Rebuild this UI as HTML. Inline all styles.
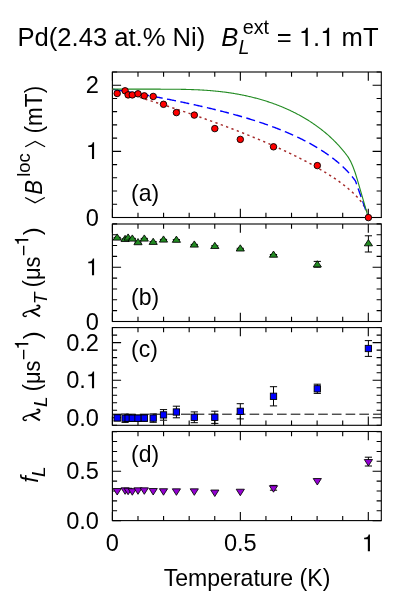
<!DOCTYPE html>
<html><head><meta charset="utf-8"><title>Pd(2.43 at.% Ni)</title>
<style>
html,body{margin:0;padding:0;background:#fff;}
svg{display:block;font-family:"Liberation Sans",sans-serif;fill:#000;will-change:transform;}
</style></head><body>
<svg width="415" height="594" viewBox="0 0 415 594">
<rect width="415" height="594" fill="#fff"/>
<rect x="112.4" y="72.0" width="268.90" height="145.50" fill="none" stroke="#000" stroke-width="1.1"/>
<path d="M112.40 217.5v-8.7M112.40 72.0v8.7M137.99 217.5v-4.7M137.99 72.0v4.7M163.58 217.5v-4.7M163.58 72.0v4.7M189.17 217.5v-4.7M189.17 72.0v4.7M214.76 217.5v-4.7M214.76 72.0v4.7M240.35 217.5v-8.7M240.35 72.0v8.7M265.94 217.5v-4.7M265.94 72.0v4.7M291.53 217.5v-4.7M291.53 72.0v4.7M317.12 217.5v-4.7M317.12 72.0v4.7M342.71 217.5v-4.7M342.71 72.0v4.7M368.30 217.5v-8.7M368.30 72.0v8.7" stroke="#000" stroke-width="1.1" fill="none"/>
<rect x="112.4" y="224.0" width="268.90" height="97.50" fill="none" stroke="#000" stroke-width="1.1"/>
<path d="M112.40 321.5v-8.7M112.40 224.0v8.7M137.99 321.5v-4.7M137.99 224.0v4.7M163.58 321.5v-4.7M163.58 224.0v4.7M189.17 321.5v-4.7M189.17 224.0v4.7M214.76 321.5v-4.7M214.76 224.0v4.7M240.35 321.5v-8.7M240.35 224.0v8.7M265.94 321.5v-4.7M265.94 224.0v4.7M291.53 321.5v-4.7M291.53 224.0v4.7M317.12 321.5v-4.7M317.12 224.0v4.7M342.71 321.5v-4.7M342.71 224.0v4.7M368.30 321.5v-8.7M368.30 224.0v8.7" stroke="#000" stroke-width="1.1" fill="none"/>
<rect x="112.4" y="327.6" width="268.90" height="97.70" fill="none" stroke="#000" stroke-width="1.1"/>
<path d="M112.40 425.3v-8.7M112.40 327.6v8.7M137.99 425.3v-4.7M137.99 327.6v4.7M163.58 425.3v-4.7M163.58 327.6v4.7M189.17 425.3v-4.7M189.17 327.6v4.7M214.76 425.3v-4.7M214.76 327.6v4.7M240.35 425.3v-8.7M240.35 327.6v8.7M265.94 425.3v-4.7M265.94 327.6v4.7M291.53 425.3v-4.7M291.53 327.6v4.7M317.12 425.3v-4.7M317.12 327.6v4.7M342.71 425.3v-4.7M342.71 327.6v4.7M368.30 425.3v-8.7M368.30 327.6v8.7" stroke="#000" stroke-width="1.1" fill="none"/>
<rect x="112.4" y="431.5" width="268.90" height="89.10" fill="none" stroke="#000" stroke-width="1.1"/>
<path d="M112.40 520.6v-8.7M112.40 431.5v8.7M137.99 520.6v-4.7M137.99 431.5v4.7M163.58 520.6v-4.7M163.58 431.5v4.7M189.17 520.6v-4.7M189.17 431.5v4.7M214.76 520.6v-4.7M214.76 431.5v4.7M240.35 520.6v-8.7M240.35 431.5v8.7M265.94 520.6v-4.7M265.94 431.5v4.7M291.53 520.6v-4.7M291.53 431.5v4.7M317.12 520.6v-4.7M317.12 431.5v4.7M342.71 520.6v-4.7M342.71 431.5v4.7M368.30 520.6v-8.7M368.30 431.5v8.7" stroke="#000" stroke-width="1.1" fill="none"/>
<path d="M112.4 217.50h8.7M381.3 217.50h-8.7M112.4 204.27h4.7M381.3 204.27h-4.7M112.4 191.04h4.7M381.3 191.04h-4.7M112.4 177.81h4.7M381.3 177.81h-4.7M112.4 164.58h4.7M381.3 164.58h-4.7M112.4 151.35h8.7M381.3 151.35h-8.7M112.4 138.12h4.7M381.3 138.12h-4.7M112.4 124.89h4.7M381.3 124.89h-4.7M112.4 111.66h4.7M381.3 111.66h-4.7M112.4 98.43h4.7M381.3 98.43h-4.7M112.4 85.20h8.7M381.3 85.20h-8.7M112.4 71.97h4.7M381.3 71.97h-4.7" stroke="#000" stroke-width="1.1" fill="none"/>
<path d="M112.4 321.50h8.7M381.3 321.50h-8.7M112.4 310.65h4.7M381.3 310.65h-4.7M112.4 299.80h4.7M381.3 299.80h-4.7M112.4 288.95h4.7M381.3 288.95h-4.7M112.4 278.10h4.7M381.3 278.10h-4.7M112.4 267.25h8.7M381.3 267.25h-8.7M112.4 256.40h4.7M381.3 256.40h-4.7M112.4 245.55h4.7M381.3 245.55h-4.7M112.4 234.70h4.7M381.3 234.70h-4.7M112.4 223.85h4.7M381.3 223.85h-4.7" stroke="#000" stroke-width="1.1" fill="none"/>
<path d="M112.4 425.32h4.7M381.3 425.32h-4.7M112.4 417.80h8.7M381.3 417.80h-8.7M112.4 410.28h4.7M381.3 410.28h-4.7M112.4 402.76h4.7M381.3 402.76h-4.7M112.4 395.24h4.7M381.3 395.24h-4.7M112.4 387.72h4.7M381.3 387.72h-4.7M112.4 380.20h8.7M381.3 380.20h-8.7M112.4 372.68h4.7M381.3 372.68h-4.7M112.4 365.16h4.7M381.3 365.16h-4.7M112.4 357.64h4.7M381.3 357.64h-4.7M112.4 350.12h4.7M381.3 350.12h-4.7M112.4 342.60h8.7M381.3 342.60h-8.7M112.4 335.08h4.7M381.3 335.08h-4.7M112.4 327.56h4.7M381.3 327.56h-4.7" stroke="#000" stroke-width="1.1" fill="none"/>
<path d="M112.4 520.60h8.7M381.3 520.60h-8.7M112.4 510.72h4.7M381.3 510.72h-4.7M112.4 500.84h4.7M381.3 500.84h-4.7M112.4 490.96h4.7M381.3 490.96h-4.7M112.4 481.08h4.7M381.3 481.08h-4.7M112.4 471.20h8.7M381.3 471.20h-8.7M112.4 461.32h4.7M381.3 461.32h-4.7M112.4 451.44h4.7M381.3 451.44h-4.7M112.4 441.56h4.7M381.3 441.56h-4.7M112.4 431.68h4.7M381.3 431.68h-4.7" stroke="#000" stroke-width="1.1" fill="none"/>
<text x="85.87" y="225.65" font-size="23.6">0</text>
<path d="M94.09 158.90L94.09 142.17L92.79 142.17C92.39 144.39 90.95 145.35 88.26 145.50L88.26 147.03L91.96 147.03L91.96 158.90Z" fill="#000"/>
<text x="85.87" y="93.15" font-size="23.6">2</text>
<text x="85.87" y="330.45" font-size="23.6">0</text>
<path d="M94.09 275.20L94.09 258.47L92.79 258.47C92.39 260.69 90.95 261.65 88.26 261.80L88.26 263.33L91.96 263.33L91.96 275.20Z" fill="#000"/>
<text x="66.19" y="425.75" font-size="23.6">0.0</text>
<text x="66.19" y="388.15" font-size="23.6">0.</text>
<path d="M94.09 388.15L94.09 371.42L92.79 371.42C92.39 373.64 90.95 374.60 88.26 374.75L88.26 376.28L91.96 376.28L91.96 388.15Z" fill="#000"/>
<text x="66.19" y="350.85" font-size="23.6">0.2</text>
<text x="66.19" y="528.85" font-size="23.6">0.0</text>
<text x="66.19" y="479.45" font-size="23.6">0.5</text>
<text x="105.84" y="551.20" font-size="23.6">0</text>
<text x="223.95" y="551.20" font-size="23.6">0.5</text>
<path d="M369.95 551.20L369.95 534.47L368.65 534.47C368.25 536.69 366.81 537.65 364.12 537.80L364.12 539.33L367.83 539.33L367.83 551.20Z" fill="#000"/>
<text transform="translate(163.68 585.70) scale(0.978 1)" font-size="23.6">Temperature (K)</text>
<text transform="translate(131.06 200.60) scale(0.975 1)" font-size="23.6">(a)</text>
<text transform="translate(131.06 304.60) scale(0.975 1)" font-size="23.6">(b)</text>
<text transform="translate(131.06 357.40) scale(0.975 1)" font-size="23.6">(c)</text>
<text transform="translate(131.06 461.60) scale(0.975 1)" font-size="23.6">(d)</text>
<text x="17.49" y="46.00" font-size="25.6">Pd(2.43 at.% Ni)</text>
<text x="221.33" y="45.90" font-size="25.6" font-style="italic">B</text>
<text x="238.51" y="53.90" font-size="19.6" font-style="italic">L</text>
<text x="242.66" y="33.50" font-size="19.8">ext</text>
<text x="276.82" y="46.00" font-size="25.6">=</text>
<path d="M307.79 46.00L307.79 27.85L306.38 27.85C305.95 30.26 304.39 31.31 301.47 31.46L301.47 33.12L305.49 33.12L305.49 46.00Z" fill="#000"/>
<text x="313.12" y="46.00" font-size="25.6">.</text>
<path d="M329.14 46.00L329.14 27.85L327.73 27.85C327.30 30.26 325.73 31.31 322.82 31.46L322.82 33.12L326.83 33.12L326.83 46.00Z" fill="#000"/>
<text x="341.58" y="46.00" font-size="25.6">mT</text>
<path d="M112.40 89.17L113.25 89.42L114.11 89.67L114.96 89.92L115.81 90.17L116.67 90.43L117.52 90.68L118.37 90.93L119.22 91.19L120.08 91.44L120.93 91.69L121.78 91.95L122.64 92.20L123.49 92.46L124.34 92.71L125.20 92.97L126.05 93.23L126.90 93.48L127.75 93.74L128.61 94.00L129.46 94.25L130.31 94.51L131.17 94.77L132.02 95.03L132.87 95.29L133.72 95.55L134.58 95.81L135.43 96.07L136.28 96.33L137.14 96.59L137.99 96.85L138.84 97.11L139.70 97.38L140.55 97.64L141.40 97.90L142.25 98.17L143.11 98.43L143.96 98.70L144.81 98.96L145.67 99.23L146.52 99.49L147.37 99.76L148.23 100.02L149.08 100.29L149.93 100.56L150.78 100.83L151.64 101.10L152.49 101.36L153.34 101.63L154.20 101.90L155.05 102.17L155.90 102.44L156.76 102.71L157.61 102.99L158.46 103.26L159.31 103.53L160.17 103.80L161.02 104.08L161.87 104.35L162.73 104.62L163.58 104.90L164.43 105.17L165.29 105.45L166.14 105.73L166.99 106.00L167.84 106.28L168.70 106.56L169.55 106.84L170.40 107.11L171.26 107.39L172.11 107.67L172.96 107.95L173.82 108.23L174.67 108.51L175.52 108.80L176.38 109.08L177.23 109.36L178.08 109.64L178.93 109.93L179.79 110.21L180.64 110.50L181.49 110.78L182.35 111.07L183.20 111.35L184.05 111.64L184.91 111.93L185.76 112.22L186.61 112.50L187.46 112.79L188.32 113.08L189.17 113.37L190.02 113.66L190.88 113.96L191.73 114.25L192.58 114.54L193.44 114.83L194.29 115.13L195.14 115.42L195.99 115.72L196.85 116.01L197.70 116.31L198.55 116.61L199.41 116.90L200.26 117.20L201.11 117.50L201.97 117.80L202.82 118.10L203.67 118.40L204.52 118.70L205.38 119.00L206.23 119.31L207.08 119.61L207.94 119.91L208.79 120.22L209.64 120.52L210.50 120.83L211.35 121.13L212.20 121.44L213.05 121.75L213.91 122.06L214.76 122.37L215.61 122.68L216.47 122.99L217.32 123.30L218.17 123.61L219.03 123.93L219.88 124.24L220.73 124.55L221.58 124.87L222.44 125.18L223.29 125.50L224.14 125.82L225.00 126.14L225.85 126.46L226.70 126.78L227.56 127.10L228.41 127.42L229.26 127.74L230.11 128.06L230.97 128.39L231.82 128.71L232.67 129.04L233.53 129.36L234.38 129.69L235.23 130.02L236.09 130.35L236.94 130.68L237.79 131.01L238.64 131.34L239.50 131.67L240.35 132.01L241.20 132.34L242.06 132.68L242.91 133.01L243.76 133.35L244.62 133.69L245.47 134.03L246.32 134.37L247.17 134.71L248.03 135.05L248.88 135.40L249.73 135.74L250.59 136.08L251.44 136.43L252.29 136.78L253.15 137.13L254.00 137.48L254.85 137.83L255.70 138.18L256.56 138.53L257.41 138.88L258.26 139.24L259.12 139.60L259.97 139.95L260.82 140.31L261.68 140.67L262.53 141.03L263.38 141.39L264.23 141.76L265.09 142.12L265.94 142.49L266.79 142.85L267.65 143.22L268.50 143.59L269.35 143.96L270.21 144.33L271.06 144.71L271.91 145.08L272.76 145.46L273.62 145.84L274.47 146.22L275.32 146.60L276.18 146.98L277.03 147.36L277.88 147.75L278.74 148.13L279.59 148.52L280.44 148.91L281.29 149.30L282.15 149.69L283.00 150.09L283.85 150.48L284.71 150.88L285.56 151.28L286.41 151.68L287.26 152.08L288.12 152.49L288.97 152.89L289.82 153.30L290.68 153.71L291.53 154.12L292.38 154.54L293.24 154.95L294.09 155.37L294.94 155.79L295.80 156.21L296.65 156.64L297.50 157.06L298.35 157.49L299.21 157.92L300.06 158.35L300.91 158.79L301.77 159.22L302.62 159.66L303.47 160.10L304.33 160.55L305.18 160.99L306.03 161.44L306.88 161.89L307.74 162.35L308.59 162.80L309.44 163.26L310.30 163.72L311.15 164.19L312.00 164.66L312.86 165.13L313.71 165.60L314.56 166.08L315.41 166.56L316.27 167.04L317.12 167.53L317.97 168.02L318.83 168.51L319.68 169.01L320.53 169.51L321.38 170.01L322.24 170.52L323.09 171.03L323.94 171.55L324.80 172.07L325.65 172.59L326.50 173.12L327.36 173.65L328.21 174.19L329.06 174.73L329.91 175.28L330.77 175.83L331.62 176.39L332.47 176.95L333.33 177.52L334.18 178.10L335.03 178.68L335.89 179.26L336.74 179.86L337.59 180.45L338.44 181.06L339.30 181.68L340.15 182.30L341.00 182.93L341.86 183.56L342.71 184.21L343.56 184.86L344.42 185.53L345.27 186.20L346.12 186.89L346.98 187.58L347.83 188.29L348.68 189.01L349.53 189.74L350.39 190.49L351.24 191.25L352.09 192.03L352.95 192.82L353.80 193.63L354.65 194.47L355.50 195.32L356.36 196.20L357.21 197.11L358.06 198.04L358.92 199.01L359.77 200.01L360.62 201.06L361.48 202.16L362.33 203.31L363.18 204.54L364.03 205.85L364.89 207.28L365.74 208.86L366.59 210.69L367.45 212.96L368.30 217.50" fill="none" stroke="#a52a2a" stroke-width="1.45" stroke-dasharray="2.3 3.4"/>
<path d="M112.40 89.17L113.25 89.31L114.11 89.45L114.96 89.60L115.81 89.74L116.67 89.89L117.52 90.03L118.37 90.18L119.22 90.32L120.08 90.47L120.93 90.61L121.78 90.76L122.64 90.90L123.49 91.05L124.34 91.20L125.20 91.34L126.05 91.49L126.90 91.64L127.75 91.79L128.61 91.94L129.46 92.09L130.31 92.24L131.17 92.39L132.02 92.54L132.87 92.69L133.72 92.84L134.58 92.99L135.43 93.14L136.28 93.29L137.14 93.45L137.99 93.60L138.84 93.75L139.70 93.91L140.55 94.06L141.40 94.22L142.25 94.37L143.11 94.53L143.96 94.68L144.81 94.84L145.67 94.99L146.52 95.15L147.37 95.31L148.23 95.47L149.08 95.63L149.93 95.78L150.78 95.94L151.64 96.10L152.49 96.26L153.34 96.42L154.20 96.58L155.05 96.75L155.90 96.91L156.76 97.07L157.61 97.23L158.46 97.40L159.31 97.56L160.17 97.72L161.02 97.89L161.87 98.05L162.73 98.22L163.58 98.39L164.43 98.55L165.29 98.72L166.14 98.89L166.99 99.06L167.84 99.23L168.70 99.39L169.55 99.56L170.40 99.74L171.26 99.91L172.11 100.08L172.96 100.25L173.82 100.42L174.67 100.60L175.52 100.77L176.38 100.94L177.23 101.12L178.08 101.29L178.93 101.47L179.79 101.65L180.64 101.82L181.49 102.00L182.35 102.18L183.20 102.36L184.05 102.54L184.91 102.72L185.76 102.90L186.61 103.08L187.46 103.27L188.32 103.45L189.17 103.63L190.02 103.82L190.88 104.00L191.73 104.19L192.58 104.37L193.44 104.56L194.29 104.75L195.14 104.94L195.99 105.13L196.85 105.32L197.70 105.51L198.55 105.70L199.41 105.89L200.26 106.09L201.11 106.28L201.97 106.47L202.82 106.67L203.67 106.87L204.52 107.06L205.38 107.26L206.23 107.46L207.08 107.66L207.94 107.86L208.79 108.06L209.64 108.27L210.50 108.47L211.35 108.67L212.20 108.88L213.05 109.08L213.91 109.29L214.76 109.50L215.61 109.71L216.47 109.92L217.32 110.13L218.17 110.34L219.03 110.56L219.88 110.77L220.73 110.98L221.58 111.20L222.44 111.42L223.29 111.64L224.14 111.86L225.00 112.08L225.85 112.30L226.70 112.52L227.56 112.75L228.41 112.97L229.26 113.20L230.11 113.43L230.97 113.66L231.82 113.89L232.67 114.12L233.53 114.35L234.38 114.58L235.23 114.82L236.09 115.06L236.94 115.29L237.79 115.53L238.64 115.78L239.50 116.02L240.35 116.26L241.20 116.51L242.06 116.75L242.91 117.00L243.76 117.25L244.62 117.50L245.47 117.76L246.32 118.01L247.17 118.27L248.03 118.52L248.88 118.78L249.73 119.04L250.59 119.31L251.44 119.57L252.29 119.84L253.15 120.10L254.00 120.37L254.85 120.64L255.70 120.92L256.56 121.19L257.41 121.47L258.26 121.75L259.12 122.03L259.97 122.31L260.82 122.60L261.68 122.88L262.53 123.17L263.38 123.46L264.23 123.75L265.09 124.05L265.94 124.35L266.79 124.65L267.65 124.95L268.50 125.25L269.35 125.56L270.21 125.87L271.06 126.18L271.91 126.49L272.76 126.80L273.62 127.12L274.47 127.44L275.32 127.76L276.18 128.09L277.03 128.42L277.88 128.75L278.74 129.08L279.59 129.42L280.44 129.75L281.29 130.10L282.15 130.44L283.00 130.79L283.85 131.14L284.71 131.49L285.56 131.84L286.41 132.20L287.26 132.56L288.12 132.93L288.97 133.30L289.82 133.67L290.68 134.04L291.53 134.42L292.38 134.80L293.24 135.19L294.09 135.57L294.94 135.96L295.80 136.36L296.65 136.76L297.50 137.16L298.35 137.57L299.21 137.98L300.06 138.39L300.91 138.81L301.77 139.23L302.62 139.66L303.47 140.09L304.33 140.52L305.18 140.96L306.03 141.40L306.88 141.85L307.74 142.31L308.59 142.76L309.44 143.22L310.30 143.69L311.15 144.16L312.00 144.64L312.86 145.12L313.71 145.61L314.56 146.10L315.41 146.60L316.27 147.11L317.12 147.62L317.97 148.13L318.83 148.66L319.68 149.18L320.53 149.72L321.38 150.26L322.24 150.81L323.09 151.36L323.94 151.93L324.80 152.49L325.65 153.07L326.50 153.66L327.36 154.25L328.21 154.85L329.06 155.46L329.91 156.08L330.77 156.70L331.62 157.34L332.47 157.98L333.33 158.64L334.18 159.30L335.03 159.98L335.89 160.67L336.74 161.36L337.59 162.07L338.44 162.79L339.30 163.53L340.15 164.28L341.00 165.04L341.86 165.81L342.71 166.60L343.56 167.41L344.42 168.23L345.27 169.07L346.12 169.93L346.98 170.81L347.83 171.71L348.68 172.63L349.53 173.57L350.39 174.54L351.24 175.54L352.09 176.56L352.95 177.61L353.80 178.70L354.65 179.82L355.50 180.98L356.36 183.42L357.21 185.85L358.06 188.29L358.92 190.72L359.77 193.16L360.62 195.59L361.48 198.02L362.33 200.46L363.18 202.89L364.03 205.33L364.89 207.76L365.74 210.20L366.59 212.63L367.45 215.07L368.30 217.50" fill="none" stroke="#0000ff" stroke-width="1.4" stroke-dasharray="9.1 4.5" stroke-dashoffset="-1.1"/>
<path d="M112.40 89.17L113.25 89.17L114.11 89.17L114.96 89.17L115.81 89.17L116.67 89.17L117.52 89.17L118.37 89.17L119.22 89.17L120.08 89.17L120.93 89.17L121.78 89.17L122.64 89.17L123.49 89.17L124.34 89.17L125.20 89.17L126.05 89.17L126.90 89.17L127.75 89.17L128.61 89.17L129.46 89.17L130.31 89.17L131.17 89.17L132.02 89.17L132.87 89.17L133.72 89.17L134.58 89.17L135.43 89.17L136.28 89.17L137.14 89.17L137.99 89.17L138.84 89.17L139.70 89.17L140.55 89.17L141.40 89.17L142.25 89.17L143.11 89.17L143.96 89.17L144.81 89.17L145.67 89.17L146.52 89.17L147.37 89.17L148.23 89.17L149.08 89.17L149.93 89.17L150.78 89.17L151.64 89.17L152.49 89.17L153.34 89.17L154.20 89.17L155.05 89.17L155.90 89.17L156.76 89.17L157.61 89.17L158.46 89.17L159.31 89.17L160.17 89.17L161.02 89.18L161.87 89.18L162.73 89.18L163.58 89.18L164.43 89.18L165.29 89.19L166.14 89.19L166.99 89.19L167.84 89.19L168.70 89.20L169.55 89.20L170.40 89.21L171.26 89.21L172.11 89.22L172.96 89.22L173.82 89.23L174.67 89.24L175.52 89.25L176.38 89.26L177.23 89.27L178.08 89.28L178.93 89.29L179.79 89.30L180.64 89.31L181.49 89.33L182.35 89.34L183.20 89.36L184.05 89.37L184.91 89.39L185.76 89.41L186.61 89.43L187.46 89.45L188.32 89.48L189.17 89.50L190.02 89.53L190.88 89.55L191.73 89.58L192.58 89.61L193.44 89.64L194.29 89.68L195.14 89.71L195.99 89.75L196.85 89.78L197.70 89.82L198.55 89.86L199.41 89.91L200.26 89.95L201.11 90.00L201.97 90.05L202.82 90.10L203.67 90.15L204.52 90.20L205.38 90.26L206.23 90.32L207.08 90.38L207.94 90.44L208.79 90.50L209.64 90.57L210.50 90.64L211.35 90.71L212.20 90.78L213.05 90.86L213.91 90.93L214.76 91.01L215.61 91.10L216.47 91.18L217.32 91.27L218.17 91.36L219.03 91.45L219.88 91.54L220.73 91.64L221.58 91.74L222.44 91.84L223.29 91.95L224.14 92.05L225.00 92.16L225.85 92.28L226.70 92.39L227.56 92.51L228.41 92.63L229.26 92.75L230.11 92.88L230.97 93.01L231.82 93.14L232.67 93.28L233.53 93.41L234.38 93.55L235.23 93.70L236.09 93.84L236.94 93.99L237.79 94.15L238.64 94.30L239.50 94.46L240.35 94.62L241.20 94.79L242.06 94.96L242.91 95.13L243.76 95.30L244.62 95.48L245.47 95.66L246.32 95.85L247.17 96.03L248.03 96.22L248.88 96.42L249.73 96.62L250.59 96.82L251.44 97.02L252.29 97.23L253.15 97.44L254.00 97.66L254.85 97.88L255.70 98.10L256.56 98.33L257.41 98.56L258.26 98.79L259.12 99.03L259.97 99.27L260.82 99.51L261.68 99.76L262.53 100.01L263.38 100.27L264.23 100.53L265.09 100.79L265.94 101.06L266.79 101.33L267.65 101.61L268.50 101.89L269.35 102.17L270.21 102.46L271.06 102.76L271.91 103.05L272.76 103.35L273.62 103.66L274.47 103.97L275.32 104.28L276.18 104.60L277.03 104.93L277.88 105.25L278.74 105.59L279.59 105.92L280.44 106.27L281.29 106.61L282.15 106.96L283.00 107.32L283.85 107.68L284.71 108.05L285.56 108.42L286.41 108.79L287.26 109.18L288.12 109.56L288.97 109.95L289.82 110.35L290.68 110.75L291.53 111.16L292.38 111.57L293.24 111.99L294.09 112.42L294.94 112.85L295.80 113.28L296.65 113.72L297.50 114.17L298.35 114.63L299.21 115.09L300.06 115.55L300.91 116.02L301.77 116.50L302.62 116.99L303.47 117.48L304.33 117.98L305.18 118.48L306.03 118.99L306.88 119.51L307.74 120.04L308.59 120.57L309.44 121.11L310.30 121.66L311.15 122.22L312.00 122.78L312.86 123.35L313.71 123.93L314.56 124.52L315.41 125.11L316.27 125.72L317.12 126.33L317.97 126.95L318.83 127.59L319.68 128.23L320.53 128.88L321.38 129.53L322.24 130.20L323.09 130.88L323.94 131.57L324.80 132.27L325.65 132.99L326.50 133.71L327.36 134.44L328.21 135.19L329.06 135.95L329.91 136.72L330.77 137.50L331.62 138.29L332.47 139.10L333.33 139.93L334.18 140.77L335.03 141.62L335.89 142.49L336.74 143.37L337.59 144.28L338.44 145.19L339.30 146.13L340.15 147.09L341.00 148.06L341.86 149.06L342.71 150.07L343.56 151.11L344.42 152.17L345.27 153.26L346.12 154.37L346.98 155.50L347.83 156.67L348.34 157.38Q352.95 164.37 357.55 180.31L368.30 217.50" fill="none" stroke="#228b22" stroke-width="1.1" stroke-linejoin="round"/>
<circle cx="117.2" cy="93.45" r="3.25" fill="#f00" stroke="#000" stroke-width="0.9"/>
<circle cx="125.1" cy="90.8" r="3.25" fill="#f00" stroke="#000" stroke-width="0.9"/>
<circle cx="128.1" cy="94.9" r="3.25" fill="#f00" stroke="#000" stroke-width="0.9"/>
<circle cx="132.3" cy="94.9" r="3.25" fill="#f00" stroke="#000" stroke-width="0.9"/>
<circle cx="138.0" cy="93.8" r="3.25" fill="#f00" stroke="#000" stroke-width="0.9"/>
<circle cx="144.3" cy="95.85" r="3.25" fill="#f00" stroke="#000" stroke-width="0.9"/>
<circle cx="153.2" cy="96.45" r="3.25" fill="#f00" stroke="#000" stroke-width="0.9"/>
<circle cx="163.5" cy="104.3" r="3.25" fill="#f00" stroke="#000" stroke-width="0.9"/>
<circle cx="176.4" cy="112.6" r="3.25" fill="#f00" stroke="#000" stroke-width="0.9"/>
<circle cx="194.3" cy="115.1" r="3.25" fill="#f00" stroke="#000" stroke-width="0.9"/>
<circle cx="214.8" cy="128.6" r="3.25" fill="#f00" stroke="#000" stroke-width="0.9"/>
<circle cx="240.3" cy="139.4" r="3.25" fill="#f00" stroke="#000" stroke-width="0.9"/>
<circle cx="273.5" cy="146.8" r="3.25" fill="#f00" stroke="#000" stroke-width="0.9"/>
<circle cx="317.3" cy="165.6" r="3.25" fill="#f00" stroke="#000" stroke-width="0.9"/>
<circle cx="368.4" cy="217.6" r="3.25" fill="#f00" stroke="#000" stroke-width="0.9"/>
<path d="M117.20 237.40V239.00M113.60 237.40h7.2M113.60 239.00h7.2" stroke="#000" stroke-width="1.0" fill="none"/>
<path d="M117.20 233.92L121.30 240.12H113.10Z" fill="#228b22" stroke="#000" stroke-width="0.85"/>
<path d="M125.10 238.80V240.40M121.50 238.80h7.2M121.50 240.40h7.2" stroke="#000" stroke-width="1.0" fill="none"/>
<path d="M125.10 235.32L129.20 241.52H121.00Z" fill="#228b22" stroke="#000" stroke-width="0.85"/>
<path d="M128.10 237.40V239.00M124.50 237.40h7.2M124.50 239.00h7.2" stroke="#000" stroke-width="1.0" fill="none"/>
<path d="M128.10 233.92L132.20 240.12H124.00Z" fill="#228b22" stroke="#000" stroke-width="0.85"/>
<path d="M132.30 238.40V240.00M128.70 238.40h7.2M128.70 240.00h7.2" stroke="#000" stroke-width="1.0" fill="none"/>
<path d="M132.30 234.92L136.40 241.12H128.20Z" fill="#228b22" stroke="#000" stroke-width="0.85"/>
<path d="M138.00 242.00V243.60M134.40 242.00h7.2M134.40 243.60h7.2" stroke="#000" stroke-width="1.0" fill="none"/>
<path d="M138.00 238.52L142.10 244.72H133.90Z" fill="#228b22" stroke="#000" stroke-width="0.85"/>
<path d="M144.30 238.40V240.00M140.70 238.40h7.2M140.70 240.00h7.2" stroke="#000" stroke-width="1.0" fill="none"/>
<path d="M144.30 234.92L148.40 241.12H140.20Z" fill="#228b22" stroke="#000" stroke-width="0.85"/>
<path d="M153.20 241.70V243.30M149.60 241.70h7.2M149.60 243.30h7.2" stroke="#000" stroke-width="1.0" fill="none"/>
<path d="M153.20 238.22L157.30 244.42H149.10Z" fill="#228b22" stroke="#000" stroke-width="0.85"/>
<path d="M163.50 239.40V241.00M159.90 239.40h7.2M159.90 241.00h7.2" stroke="#000" stroke-width="1.0" fill="none"/>
<path d="M163.50 235.92L167.60 242.12H159.40Z" fill="#228b22" stroke="#000" stroke-width="0.85"/>
<path d="M176.40 239.60V241.20M172.80 239.60h7.2M172.80 241.20h7.2" stroke="#000" stroke-width="1.0" fill="none"/>
<path d="M176.40 236.12L180.50 242.32H172.30Z" fill="#228b22" stroke="#000" stroke-width="0.85"/>
<path d="M194.30 244.40V246.00M190.70 244.40h7.2M190.70 246.00h7.2" stroke="#000" stroke-width="1.0" fill="none"/>
<path d="M194.30 240.92L198.40 247.12H190.20Z" fill="#228b22" stroke="#000" stroke-width="0.85"/>
<path d="M214.80 245.80V247.40M211.20 245.80h7.2M211.20 247.40h7.2" stroke="#000" stroke-width="1.0" fill="none"/>
<path d="M214.80 242.32L218.90 248.52H210.70Z" fill="#228b22" stroke="#000" stroke-width="0.85"/>
<path d="M240.30 248.30V249.90M236.70 248.30h7.2M236.70 249.90h7.2" stroke="#000" stroke-width="1.0" fill="none"/>
<path d="M240.30 244.82L244.40 251.02H236.20Z" fill="#228b22" stroke="#000" stroke-width="0.85"/>
<path d="M273.50 254.50V256.10M269.90 254.50h7.2M269.90 256.10h7.2" stroke="#000" stroke-width="1.0" fill="none"/>
<path d="M273.50 251.02L277.60 257.22H269.40Z" fill="#228b22" stroke="#000" stroke-width="0.85"/>
<path d="M317.30 261.40V267.20M313.70 261.40h7.2M313.70 267.20h7.2" stroke="#000" stroke-width="1.0" fill="none"/>
<path d="M317.30 260.72L321.40 266.92H313.20Z" fill="#228b22" stroke="#000" stroke-width="0.85"/>
<path d="M368.40 235.80V252.00M364.80 235.80h7.2M364.80 252.00h7.2" stroke="#000" stroke-width="1.0" fill="none"/>
<path d="M368.40 239.62L372.50 245.82H364.30Z" fill="#228b22" stroke="#000" stroke-width="0.85"/>
<path d="M112.4 414.2H381.3" stroke="#000" stroke-width="1.0" stroke-dasharray="9.6 4.12" fill="none"/>
<path d="M117.20 414.90V420.90M113.60 414.90h7.2M113.60 420.90h7.2" stroke="#000" stroke-width="1.0" fill="none"/>
<rect x="114.05" y="414.75" width="6.3" height="6.3" fill="#0000ff" stroke="#000" stroke-width="0.9"/>
<path d="M125.10 414.00V422.40M121.50 414.00h7.2M121.50 422.40h7.2" stroke="#000" stroke-width="1.0" fill="none"/>
<rect x="121.95" y="415.05" width="6.3" height="6.3" fill="#0000ff" stroke="#000" stroke-width="0.9"/>
<path d="M128.10 415.00V421.40M124.50 415.00h7.2M124.50 421.40h7.2" stroke="#000" stroke-width="1.0" fill="none"/>
<rect x="124.95" y="415.05" width="6.3" height="6.3" fill="#0000ff" stroke="#000" stroke-width="0.9"/>
<path d="M132.30 415.00V421.40M128.70 415.00h7.2M128.70 421.40h7.2" stroke="#000" stroke-width="1.0" fill="none"/>
<rect x="129.15" y="415.05" width="6.3" height="6.3" fill="#0000ff" stroke="#000" stroke-width="0.9"/>
<path d="M138.00 415.00V421.40M134.40 415.00h7.2M134.40 421.40h7.2" stroke="#000" stroke-width="1.0" fill="none"/>
<rect x="134.85" y="415.05" width="6.3" height="6.3" fill="#0000ff" stroke="#000" stroke-width="0.9"/>
<path d="M144.30 414.90V421.30M140.70 414.90h7.2M140.70 421.30h7.2" stroke="#000" stroke-width="1.0" fill="none"/>
<rect x="141.15" y="414.95" width="6.3" height="6.3" fill="#0000ff" stroke="#000" stroke-width="0.9"/>
<path d="M153.20 413.90V422.30M149.60 413.90h7.2M149.60 422.30h7.2" stroke="#000" stroke-width="1.0" fill="none"/>
<rect x="150.05" y="414.95" width="6.3" height="6.3" fill="#0000ff" stroke="#000" stroke-width="0.9"/>
<path d="M163.50 409.60V420.20M159.90 409.60h7.2M159.90 420.20h7.2" stroke="#000" stroke-width="1.0" fill="none"/>
<rect x="160.35" y="411.75" width="6.3" height="6.3" fill="#0000ff" stroke="#000" stroke-width="0.9"/>
<path d="M176.40 406.20V417.80M172.80 406.20h7.2M172.80 417.80h7.2" stroke="#000" stroke-width="1.0" fill="none"/>
<rect x="173.25" y="408.85" width="6.3" height="6.3" fill="#0000ff" stroke="#000" stroke-width="0.9"/>
<path d="M194.30 411.90V422.70M190.70 411.90h7.2M190.70 422.70h7.2" stroke="#000" stroke-width="1.0" fill="none"/>
<rect x="191.15" y="414.15" width="6.3" height="6.3" fill="#0000ff" stroke="#000" stroke-width="0.9"/>
<path d="M214.80 411.20V423.40M211.20 411.20h7.2M211.20 423.40h7.2" stroke="#000" stroke-width="1.0" fill="none"/>
<rect x="211.65" y="414.15" width="6.3" height="6.3" fill="#0000ff" stroke="#000" stroke-width="0.9"/>
<path d="M240.30 403.70V418.90M236.70 403.70h7.2M236.70 418.90h7.2" stroke="#000" stroke-width="1.0" fill="none"/>
<rect x="237.15" y="408.15" width="6.3" height="6.3" fill="#0000ff" stroke="#000" stroke-width="0.9"/>
<path d="M273.50 386.70V405.90M269.90 386.70h7.2M269.90 405.90h7.2" stroke="#000" stroke-width="1.0" fill="none"/>
<rect x="270.35" y="393.15" width="6.3" height="6.3" fill="#0000ff" stroke="#000" stroke-width="0.9"/>
<path d="M317.30 384.20V393.40M313.70 384.20h7.2M313.70 393.40h7.2" stroke="#000" stroke-width="1.0" fill="none"/>
<rect x="314.15" y="385.65" width="6.3" height="6.3" fill="#0000ff" stroke="#000" stroke-width="0.9"/>
<path d="M368.40 340.60V356.40M364.80 340.60h7.2M364.80 356.40h7.2" stroke="#000" stroke-width="1.0" fill="none"/>
<rect x="365.25" y="345.35" width="6.3" height="6.3" fill="#0000ff" stroke="#000" stroke-width="0.9"/>
<path d="M117.20 495.03L121.30 488.53H113.10Z" fill="#9400d3" stroke="#000" stroke-width="0.85"/>
<path d="M125.10 494.33L129.20 487.83H121.00Z" fill="#9400d3" stroke="#000" stroke-width="0.85"/>
<path d="M128.10 494.73L132.20 488.23H124.00Z" fill="#9400d3" stroke="#000" stroke-width="0.85"/>
<path d="M132.30 495.23L136.40 488.73H128.20Z" fill="#9400d3" stroke="#000" stroke-width="0.85"/>
<path d="M138.00 494.33L142.10 487.83H133.90Z" fill="#9400d3" stroke="#000" stroke-width="0.85"/>
<path d="M144.30 494.33L148.40 487.83H140.20Z" fill="#9400d3" stroke="#000" stroke-width="0.85"/>
<path d="M153.20 495.03L157.30 488.53H149.10Z" fill="#9400d3" stroke="#000" stroke-width="0.85"/>
<path d="M163.50 495.23L167.60 488.73H159.40Z" fill="#9400d3" stroke="#000" stroke-width="0.85"/>
<path d="M176.40 495.33L180.50 488.83H172.30Z" fill="#9400d3" stroke="#000" stroke-width="0.85"/>
<path d="M194.30 495.33L198.40 488.83H190.20Z" fill="#9400d3" stroke="#000" stroke-width="0.85"/>
<path d="M214.80 496.53L218.90 490.03H210.70Z" fill="#9400d3" stroke="#000" stroke-width="0.85"/>
<path d="M240.30 495.73L244.40 489.23H236.20Z" fill="#9400d3" stroke="#000" stroke-width="0.85"/>
<path d="M273.50 485.40V490.20M269.90 485.40h7.2M269.90 490.20h7.2" stroke="#000" stroke-width="1.0" fill="none"/>
<path d="M273.50 492.23L277.60 485.73H269.40Z" fill="#9400d3" stroke="#000" stroke-width="0.85"/>
<path d="M317.30 485.03L321.40 478.53H313.20Z" fill="#9400d3" stroke="#000" stroke-width="0.85"/>
<path d="M368.40 457.20V466.00M364.80 457.20h7.2M364.80 466.00h7.2" stroke="#000" stroke-width="1.0" fill="none"/>
<path d="M368.40 466.03L372.50 459.53H364.30Z" fill="#9400d3" stroke="#000" stroke-width="0.85"/>
<path d="M25.1 197.5L35.0 202.7L44.8 197.5" fill="none" stroke="#000" stroke-width="1.3"/>
<text transform="translate(42.10 194.67) rotate(-90) scale(0.94 1)" font-size="23.6" font-style="italic">B</text>
<text transform="translate(30.40 176.74) rotate(-90) scale(1.0 1)" font-size="18.4">loc</text>
<path d="M25.2 146.7L35.1 141.4L45.1 146.7" fill="none" stroke="#000" stroke-width="1.3"/>
<text transform="translate(42.10 133.46) rotate(-90) scale(0.957 1)" font-size="23.6">(mT)</text>
<path d="M26.30 316.00C24.80 317.00 22.90 316.00 23.20 314.30C23.60 312.80 25.50 312.00 28.00 311.40L31.00 310.65" fill="none" stroke="#000" stroke-width="1.5" stroke-linecap="round"/>
<path d="M30.50 310.80L36.30 309.30C38.60 308.70 40.00 307.90 39.60 306.60C39.30 305.60 38.20 305.30 37.20 305.50" fill="none" stroke="#000" stroke-width="1.75" stroke-linecap="round"/>
<path d="M30.40 310.90L39.90 316.30" fill="none" stroke="#000" stroke-width="1.9"/>
<text transform="translate(46.60 304.21) rotate(-90) scale(1.0 1)" font-size="19" font-style="italic">T</text>
<text transform="translate(40.20 287.36) rotate(-90) scale(0.923 1)" font-size="23.6">(μs</text>
<path d="M23.7 255.3V245.7" stroke="#000" stroke-width="1.4" fill="none"/>
<path d="M28.30 239.11L14.83 239.11L14.83 240.15C16.62 240.48 17.39 241.63 17.51 243.80L18.74 243.80L18.74 240.82L28.30 240.82Z" fill="#000"/>
<text transform="translate(40.20 235.37) rotate(-90) scale(1.0 1)" font-size="23.6">)</text>
<path d="M26.30 420.00C24.80 421.00 22.90 420.00 23.20 418.30C23.60 416.80 25.50 416.00 28.00 415.40L31.00 414.65" fill="none" stroke="#000" stroke-width="1.5" stroke-linecap="round"/>
<path d="M30.50 414.80L36.30 413.30C38.60 412.70 40.00 411.90 39.60 410.60C39.30 409.60 38.20 409.30 37.20 409.50" fill="none" stroke="#000" stroke-width="1.75" stroke-linecap="round"/>
<path d="M30.40 414.90L39.90 420.30" fill="none" stroke="#000" stroke-width="1.9"/>
<text transform="translate(46.60 407.07) rotate(-90) scale(1.0 1)" font-size="19" font-style="italic">L</text>
<text transform="translate(40.20 391.36) rotate(-90) scale(0.923 1)" font-size="23.6">(μs</text>
<path d="M23.7 359.3V349.7" stroke="#000" stroke-width="1.4" fill="none"/>
<path d="M28.30 343.11L14.83 343.11L14.83 344.15C16.62 344.47 17.39 345.63 17.51 347.80L18.74 347.80L18.74 344.82L28.30 344.82Z" fill="#000"/>
<text transform="translate(40.20 339.37) rotate(-90) scale(1.0 1)" font-size="23.6">)</text>
<text transform="translate(37.80 482.73) rotate(-90) scale(1.0 1)" font-size="23.6" font-style="italic">f</text>
<text transform="translate(45.00 476.97) rotate(-90) scale(1.0 1)" font-size="19" font-style="italic">L</text>
</svg>
</body></html>
